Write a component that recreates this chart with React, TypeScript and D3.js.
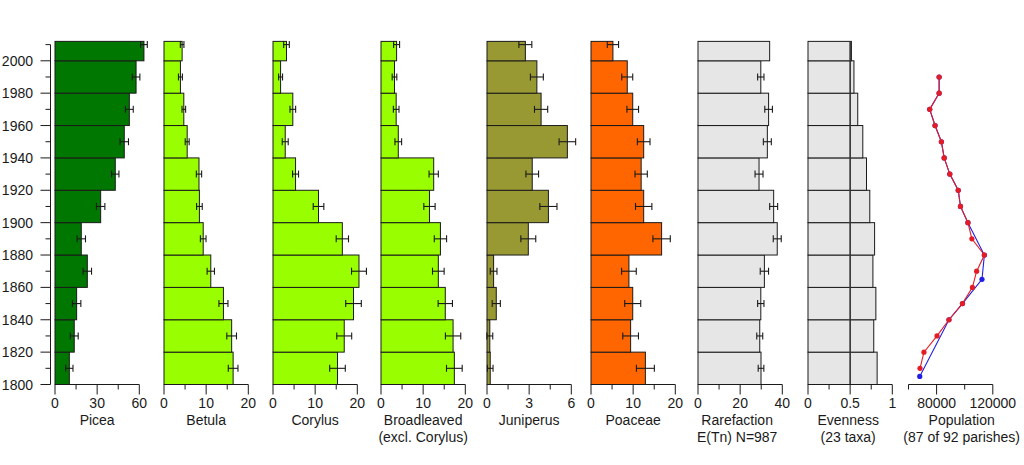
import React from 'react';
import * as d3 from 'd3';

// ---------- DATA ----------
const years = [1800, 1820, 1840, 1860, 1880, 1900, 1920, 1940, 1960, 1980, 2000];
const lastEnd = 2012;

const picea = [10.2, 13.7, 15.4, 23.0, 18.7, 32.5, 42.9, 49.3, 52.9, 57.7, 63.3];
const piceaErr = [2.6, 2.8, 3.0, 3.0, 3.0, 3.0, 2.6, 3.0, 2.8, 2.7, 2.4];
const betula = [16.4, 16.05, 14.1, 11.1, 9.3, 8.4, 8.3, 5.5, 4.7, 3.9, 4.3];
const betulaErr = [1.15, 1.15, 1.07, 0.87, 0.67, 0.67, 0.63, 0.47, 0.43, 0.47, 0.43];
const corylus = [15.3, 16.9, 19.1, 20.4, 16.45, 10.8, 5.35, 2.9, 4.7, 1.8, 3.2];
const corylusErr = [1.85, 1.77, 1.85, 1.77, 1.46, 1.26, 0.71, 0.71, 0.67, 0.47, 0.67];
const broadleaved = [17.4, 17.1, 15.25, 13.6, 14.1, 11.5, 12.5, 4.1, 3.6, 3.2, 3.7];
const broadleavedErr = [1.86, 1.82, 1.7, 1.38, 1.46, 1.34, 1.1, 0.79, 0.67, 0.55, 0.71];
const juniperus = [0.23, 0.2, 0.66, 0.47, 2.94, 4.37, 3.22, 5.72, 3.85, 3.55, 2.73];
const juniperusErr = [0.2, 0.21, 0.29, 0.24, 0.53, 0.61, 0.45, 0.59, 0.47, 0.46, 0.46];
const poaceae = [12.9, 9.4, 9.9, 9.0, 16.75, 12.5, 11.9, 12.5, 9.9, 8.6, 5.2];
const poaceaeErr = [2.13, 1.86, 1.9, 1.74, 2.06, 1.94, 1.46, 1.5, 1.38, 1.3, 1.34];
const rarefaction = [29.9, 29.3, 29.8, 31.5, 37.6, 35.9, 28.96, 32.9, 33.5, 29.8, 34.0];
const rarefactionErr = [1.34, 1.42, 1.5, 1.97, 1.89, 1.89, 1.89, 1.89, 1.81, 1.5, null];
const evenness = [0.82, 0.78, 0.805, 0.77, 0.79, 0.733, 0.694, 0.65, 0.59, 0.545, 0.515];

const popYears = [1810, 1820, 1830, 1840, 1850, 1860, 1870, 1880, 1890, 1900, 1910, 1920, 1930, 1940, 1950, 1960, 1970, 1980, 1990];
const popRed = [68200, 71000, 80300, 88800, 98400, 105500, 108500, 114000, 105100, 102300, 97000, 95400, 89400, 85400, 83400, 78900, 75100, 81800, 81800];
const popBlueYears = [1805, 1840, 1850, 1865, 1880, 1900, 1910, 1920, 1930, 1940, 1950, 1960, 1970, 1980, 1990];
const popBlue = [68000, 88800, 98400, 112300, 114000, 102300, 97000, 95400, 89400, 85400, 83400, 78900, 75100, 81800, 81800];

const yearTicks = [1800, 1820, 1840, 1860, 1880, 1900, 1920, 1940, 1960, 1980, 2000];
const yearMinor = [1810, 1830, 1850, 1870, 1890, 1910, 1930, 1950, 1970, 1990, 2010];

const popMajorLabels = ['80000', '120000'];

// ---------- LAYOUT / STYLE ----------
const FONT = 'Arial, "Liberation Sans", sans-serif';
const INK = '#1a1a1a';
const Y_BOTTOM = 384.5;
const PX_PER_YEAR = 1.6185;
const y = d3.scaleLinear().domain([1800, 2010]).range([Y_BOTTOM, Y_BOTTOM - 210 * PX_PER_YEAR]);
const PANEL_W = 84.3;

type Panel = {
  x0: number; title: string[]; domain: [number, number]; major: number[]; minor: number[];
  labels?: string[]; color?: string; values?: number[]; errs?: (number | null)[];
  refLine?: number; labelDx?: number; line?: boolean;
};

const panels: Panel[] = [
  { x0: 55, title: ['Picea'], domain: [0, 60], major: [0, 30, 60], minor: [15, 45], color: '#007700', values: picea, errs: piceaErr },
  { x0: 164, title: ['Betula'], domain: [0, 20], major: [0, 10, 20], minor: [5, 15], color: '#99ff00', values: betula, errs: betulaErr },
  { x0: 273, title: ['Corylus'], domain: [0, 20], major: [0, 10, 20], minor: [5, 15], color: '#99ff00', values: corylus, errs: corylusErr },
  { x0: 381, title: ['Broadleaved', '(excl. Corylus)'], domain: [0, 20], major: [0, 10, 20], minor: [5, 15], color: '#99ff00', values: broadleaved, errs: broadleavedErr },
  { x0: 487, title: ['Juniperus'], domain: [0, 6], major: [0, 3, 6], minor: [1.5, 4.5], color: '#999933', values: juniperus, errs: juniperusErr },
  { x0: 591, title: ['Poaceae'], domain: [0, 20], major: [0, 10, 20], minor: [5, 15], color: '#ff6600', values: poaceae, errs: poaceaeErr },
  { x0: 698, title: ['Rarefaction', 'E(Tn) N=987'], domain: [0, 40], major: [0, 20, 40], minor: [10, 30], color: '#e6e6e6', values: rarefaction, errs: rarefactionErr, labelDx: -3 },
  { x0: 808, title: ['Evenness', '(23 taxa)'], domain: [0, 1], major: [0, 0.5, 1], minor: [0.25, 0.75], color: '#e6e6e6', values: evenness, refLine: 0.5, labelDx: -2 },
  { x0: 908.5, title: ['Population', '(87 of 92 parishes)'], domain: [60000, 120000], major: [80000, 120000], minor: [60000, 100000], labels: popMajorLabels, line: true, labelDx: 11 },
];

function PanelView({ p }: { p: Panel }) {
  const x = d3.scaleLinear().domain(p.domain).range([p.x0, p.x0 + PANEL_W]);
  const marks: React.ReactNode[] = [];
  if (p.values) {
    p.values.forEach((v, i) => {
      const start = years[i];
      const end = i < years.length - 1 ? years[i + 1] : lastEnd;
      marks.push(
        <rect key={'bar' + i} x={x(0)} y={y(end)} width={x(v) - x(0)} height={y(start) - y(end)}
          fill={p.color} stroke={INK} strokeWidth={1} />
      );
    });
    if (p.refLine !== undefined) {
      marks.push(<line key="ref" x1={x(p.refLine)} x2={x(p.refLine)} y1={y(lastEnd)} y2={Y_BOTTOM} stroke="#333" strokeWidth={1.6} />);
    }
    if (p.errs) {
      p.errs.forEach((e, i) => {
        if (e == null) return;
        const v = p.values![i];
        const yy = y(years[i] + 10);
        marks.push(
          <g key={'err' + i} stroke={INK} strokeWidth={1.1} fill="none">
            <line x1={x(v - e)} x2={x(v + e)} y1={yy} y2={yy} />
            <line x1={x(v - e)} x2={x(v - e)} y1={yy - 3.5} y2={yy + 3.5} />
            <line x1={x(v + e)} x2={x(v + e)} y1={yy - 3.5} y2={yy + 3.5} />
          </g>
        );
      });
    }
  }
  if (p.line) {
    const gen = d3.line<[number, number]>().x(d => x(d[1])).y(d => y(d[0]));
    const blue: [number, number][] = popBlueYears.map((yr, i) => [yr, popBlue[i]]);
    const red: [number, number][] = popYears.map((yr, i) => [yr, popRed[i]]);
    marks.push(<path key="blueLine" d={gen(blue) ?? ''} fill="none" stroke="#1f1fe6" strokeWidth={1.1} />);
    blue.forEach((d, i) => marks.push(<circle key={'blueDot' + i} cx={x(d[1])} cy={y(d[0])} r={2.6} fill="#1f1fe6" />));
    marks.push(<path key="redLine" d={gen(red) ?? ''} fill="none" stroke="#e51c23" strokeWidth={1.1} />);
    red.forEach((d, i) => marks.push(<circle key={'redDot' + i} cx={x(d[1])} cy={y(d[0])} r={2.6} fill="#e51c23" />));
  }
  const cx = (x(p.domain[0]) + x(p.domain[1])) / 2 + (p.labelDx ?? 0);
  return (
    <g>
      {marks}
      <line x1={x(p.domain[0])} x2={x(p.domain[1])} y1={Y_BOTTOM} y2={Y_BOTTOM} stroke={INK} strokeWidth={1} />
      {p.minor.map((t, i) => (
        <line key={'minor' + i} x1={x(t)} x2={x(t)} y1={Y_BOTTOM} y2={Y_BOTTOM + 5} stroke={INK} strokeWidth={1} />
      ))}
      {p.major.map((t, i) => (
        <line key={'majorTick' + i} x1={x(t)} x2={x(t)} y1={Y_BOTTOM} y2={Y_BOTTOM + 10} stroke={INK} strokeWidth={1} />
      ))}
      {p.major.map((t, i) => (
        <text key={'majorLabel' + i} x={x(t)} y={408} textAnchor="middle" fontSize={14} fontFamily={FONT} fill={INK}>
          {p.labels ? p.labels[i] : String(t)}
        </text>
      ))}
      {p.title.map((t, i) => (
        <text key={'title' + i} x={cx} y={425 + i * 17} textAnchor="middle" fontSize={14} fontFamily={FONT} fill={INK}>{t}</text>
      ))}
    </g>
  );
}

export default function App() {
  const axX = 50.5;
  return (
    <svg width={1024} height={465} style={{ position: 'absolute', left: 0, top: 0, background: '#fff' }}>
      <rect x={0} y={0} width={1024} height={465} fill="#fff" />
      <line x1={axX} x2={axX} y1={y(2010)} y2={Y_BOTTOM} stroke={INK} strokeWidth={1} />
      {yearTicks.map(t => (
        <g key={t}>
          <line x1={axX - 10} x2={axX} y1={y(t)} y2={y(t)} stroke={INK} strokeWidth={1} />
          <text x={33} y={y(t)} dy="0.36em" textAnchor="end" fontSize={14} fontFamily={FONT} fill={INK}>{t}</text>
        </g>
      ))}
      {yearMinor.map(t => (
        <line key={t} x1={axX - 5} x2={axX} y1={y(t)} y2={y(t)} stroke={INK} strokeWidth={1} />
      ))}
      {panels.map((p, i) => <PanelView key={i} p={p} />)}
    </svg>
  );
}
